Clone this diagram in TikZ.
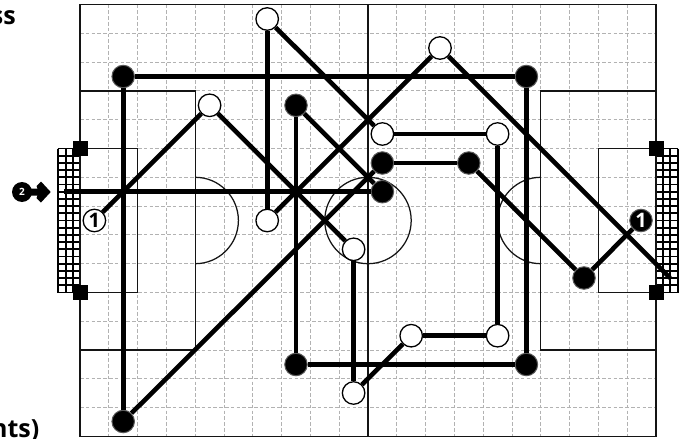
\documentclass[tikz,border=0pt]{standalone}
\usepackage{fontspec}
\setmainfont{Open Sans}
\tikzset{
  x=1pt,y=-1pt,
  pass/.style={line width=4.6pt,line cap=butt,line join=miter},
  fieldline/.style={line width=1.25pt,draw=black!92},
  gridline/.style={line width=.85pt,draw=black!30,dash pattern=on 3.6pt off 2.2pt},
  netline/.style={line width=1.9pt},
  bn/.style={circle,fill=black,draw=black!65,line width=1pt,minimum size=22.5pt,inner sep=0pt,text=white,font=\bfseries\fontsize{20}{20}\selectfont},
  wn/.style={circle,fill=white,draw=black,line width=1.3pt,minimum size=22.5pt,inner sep=0pt,font=\bfseries\fontsize{20}{20}\selectfont},
  post/.style={fill=black,draw=none,minimum size=15pt,inner sep=0pt},
  clipped/.style={font=\bfseries\fontsize{25}{25}\selectfont,inner sep=0pt},
  marker/.style={circle,fill=black,minimum size=20pt,inner sep=0pt,text=white,font=\bfseries\fontsize{10}{10}\selectfont}
}
\begin{document}
\begin{tikzpicture}
\useasboundingbox (0,0) rectangle (689,439);
\fill[white] (0,0) rectangle (689,439);
% grid
\foreach \k in {1,...,19}{\draw[gridline] ({80+28.8*\k},4.5) -- ({80+28.8*\k},436.5);}
\foreach \k in {1,...,14}{\draw[gridline] (80,{4.5+28.8*\k}) -- (656,{4.5+28.8*\k});}
% nets
\foreach \k in {0,...,3}{
  \draw[netline] ({58.4+7.2*\k},148.5) -- ({58.4+7.2*\k},292.5);
  \draw[netline] ({656+7.2*\k},148.5) -- ({656+7.2*\k},292.5);}
\foreach \k in {0,...,20}{
  \draw[netline] (57.6,{148.5+7.2*\k}) -- (80,{148.5+7.2*\k});
  \draw[netline] (656,{148.5+7.2*\k}) -- (678.4,{148.5+7.2*\k});}
% field
\draw[fieldline] (80,4.5) rectangle (656,436.5);
\draw[fieldline] (368,4.5) -- (368,436.5);
\draw[fieldline] (80,90.9) rectangle (195.2,350.1);
\draw[fieldline] (656,90.9) rectangle (540.8,350.1);
\draw[fieldline] (80,148.5) rectangle (137.6,292.5);
\draw[fieldline] (656,148.5) rectangle (598.4,292.5);
\draw[fieldline] (368,220.5) circle[radius=43.2];
\draw[fieldline] (195.2,177.3) arc[start angle=-90,end angle=90,radius=43.2,y=-1pt];
\draw[fieldline] (540.8,177.3) arc[start angle=-90,end angle=-270,radius=43.2];
% posts
\node[post] (p1) at (80,148.5) {};
\node[post] (p2) at (80,292.5) {};
\node[post] (p3) at (656,148.5) {};
\node[post] (p4) at (656,292.5) {};
% free ends
\coordinate (endW) at (670,278);
\coordinate (endB) at (64,191.7);
% nodes
\node[bn] (a) at (123.2,76.5) {};
\node[bn] (b) at (123.2,421.5) {};
\node[bn] (c) at (526.4,76.5) {};
\node[bn] (d) at (526.4,364.5) {};
\node[bn] (e) at (296,105.3) {};
\node[bn] (f) at (296,364.5) {};
\node[bn] (g) at (382.4,163) {};
\node[bn] (h) at (382.4,191.7) {};
\node[bn] (i) at (468.8,163) {};
\node[bn] (j) at (584,278) {};
\node[bn] (n1) at (641,220.5) {1};
\node[wn] (k) at (267.2,19) {};
\node[wn] (l) at (440,48) {};
\node[wn] (m) at (209.6,105.3) {};
\node[wn] (n) at (382.4,134) {};
\node[wn] (o) at (497.6,134) {};
\node[wn] (q) at (267.2,220.5) {};
\node[wn] (r) at (353.6,249.3) {};
\node[wn] (s) at (353.6,393) {};
\node[wn] (t) at (411.2,335.7) {};
\node[wn] (u) at (497.6,335.7) {};
\node[wn] (w1) at (94.4,220.5) {1};
% passes
\draw[pass] (k) -- (q);
\draw[pass] (q) -- (l);
\draw[pass] (l) -- (endW);
\draw[pass] (k) -- (n);
\draw[pass] (n) -- (o);
\draw[pass] (o) -- (u);
\draw[pass] (u) -- (t);
\draw[pass] (t) -- (s);
\draw[pass] (s) -- (r);
\draw[pass] (r) -- (m);
\draw[pass] (m) -- (w1);
\draw[pass] (a) -- (c);
\draw[pass] (c) -- (d);
\draw[pass] (d) -- (f);
\draw[pass] (f) -- (e);
\draw[pass] (e) -- (h);
\draw[pass] (h) -- (endB);
\draw[pass] (a) -- (b);
\draw[pass] (b) -- (g);
\draw[pass] (g) -- (i);
\draw[pass] (i) -- (j);
\draw[pass] (j) -- (n1);
% marker
\node[marker] (m2) at (22,192) {2};
\fill (30,188.5) -- (37.5,188.5) -- (36.5,186) -- (41,181.5) -- (50.7,192) -- (41,202.5) -- (36.5,198) -- (37.5,195.5) -- (30,195.5) -- cycle;
% clipped text
\node[clipped,anchor=base east] (t1) at (16,24.5) {ss};
\node[clipped,anchor=base east] (t2) at (39.5,437) {nts)};
\end{tikzpicture}
\end{document}
